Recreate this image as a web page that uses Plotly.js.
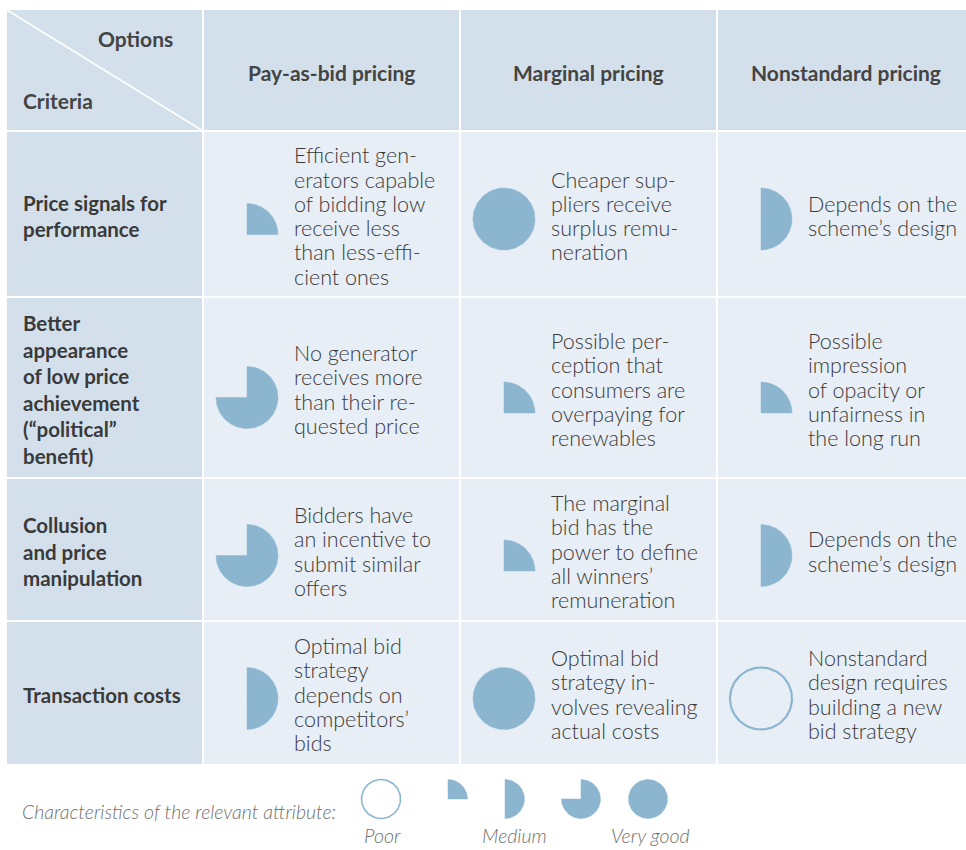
<!DOCTYPE html>
<html>
<head>
<meta charset="utf-8">
<script src="https://cdn.plot.ly/plotly-3.0.1.min.js"></script>
<style>
  html, body { margin: 0; padding: 0; background: #ffffff; }
  #chart { width: 966px; height: 850px; }
</style>
</head>
<body>
<div id="chart"></div>
<script>
// ---------------- DATA ----------------
const options = ["Pay-as-bid pricing", "Marginal pricing", "Nonstandard pricing"];
const criteria = [
  ["Price signals for", "performance"],
  ["Better", "appearance", "of low price", "achievement", "(“political”", "benefit)"],
  ["Collusion", "and price", "manipulation"],
  ["Transaction costs"]
];
// Harvey-ball scores, in quarters (0 = poor ... 4 = very good)
const scoresPayAsBid   = [1, 3, 3, 2];
const scoresMarginal   = [4, 1, 1, 4];
const scoresNonstandard = [2, 1, 2, 0];
const descPayAsBid = [
  ["Efficient gen-", "erators capable", "of bidding low", "receive less", "than less-effi-", "cient ones"],
  ["No generator", "receives more", "than their re-", "quested price"],
  ["Bidders have", "an incentive to", "submit similar", "offers"],
  ["Optimal bid", "strategy", "depends on", "competitors’", "bids"]
];
const descMarginal = [
  ["Cheaper sup-", "pliers receive", "surplus remu-", "neration"],
  ["Possible per-", "ception that", "consumers are", "overpaying for", "renewables"],
  ["The marginal", "bid has the", "power to define", "all winners’", "remuneration"],
  ["Optimal bid", "strategy in-", "volves revealing", "actual costs"]
];
const descNonstandard = [
  ["Depends on the", "scheme’s design"],
  ["Possible", "impression", "of opacity or", "unfairness in", "the long run"],
  ["Depends on the", "scheme’s design"],
  ["Nonstandard", "design requires", "building a new", "bid strategy"]
];
const cornerTop = "Options";
const cornerBottom = "Criteria";
const legendTitle = "Characteristics of the relevant attribute:";
const legendScores = [0, 1, 2, 3, 4];
const legendLabels = ["Poor", "", "Medium", "", "Very good"];

// ---------------- LAYOUT PARAMETERS ----------------
const colEdges = [7, 203, 460, 717, 966];
const rowEdges = [10, 131, 297, 478, 621, 764];
const ballYOffset = [5, 10, 6, 6];
const legendX = [381, 448, 505, 581, 648];
const legendY = 799;
const headFill = "#d3e0eb";
const bodyFill = "#e8eef5";
const ballColor = "#8cb6d0";
const bodyFont = "Lato, 'Open Sans', sans-serif";

const scores = [scoresPayAsBid, scoresMarginal, scoresNonstandard];
const descs = [descPayAsBid, descMarginal, descNonstandard];

const shapes = [];
const annotations = [];
const traces = [];

// cells
for (let r = 0; r < rowEdges.length - 1; r++) {
  for (let c = 0; c < colEdges.length - 1; c++) {
    const head = (r === 0 || c === 0);
    shapes.push({
      type: "rect", xref: "x", yref: "y", layer: "below",
      x0: colEdges[c] + (c > 0 ? 1 : 0), x1: colEdges[c + 1] - (c < colEdges.length - 2 ? 1 : 0),
      y0: rowEdges[r] + (r > 0 ? 1 : 0), y1: rowEdges[r + 1] - (r < rowEdges.length - 2 ? 1 : 0),
      fillcolor: head ? headFill : bodyFill, line: { width: 0 }
    });
  }
}
// diagonal in corner cell
shapes.push({
  type: "line", xref: "x", yref: "y",
  x0: colEdges[0], y0: rowEdges[0], x1: colEdges[1], y1: rowEdges[1],
  line: { color: "#ffffff", width: 1.5 }
});

function addLines(lines, x, yc, gap, font, xanchor) {
  const n = lines.length;
  const adj = xanchor === "left" ? -2 : (xanchor === "right" ? 2 : 0);
  lines.forEach((t, i) => {
    annotations.push({
      xref: "x", yref: "y", x: x + adj, y: yc + (i - (n - 1) / 2) * gap,
      text: t, showarrow: false, xanchor: xanchor || "left", yanchor: "middle",
      font: font
    });
  });
}

const headFont = { family: bodyFont, size: 21, color: "#444444", weight: 700 };
const critFont = { family: bodyFont, size: 20.5, color: "#3a3a3a", weight: 700 };
const descFont = { family: bodyFont, size: 21.5, color: "#3a3a3a", weight: 300 };
const legFont = { family: bodyFont, size: 19.5, color: "#707070", weight: 300, style: "italic" };

// headers
options.forEach((o, c) => {
  const xc = c === 2 ? (colEdges[c + 1] + colEdges[c + 2]) / 2 + 4 : (colEdges[c + 1] + colEdges[c + 2]) / 2;
  addLines([o], xc, (rowEdges[0] + rowEdges[1]) / 2 + 2, 0, headFont, "center");
});
addLines([cornerTop], 173, 38, 0, headFont, "right");
addLines([cornerBottom], 23, 100, 0, headFont, "left");

// harvey ball builder
function harvey(score, cx, cy, r, shiftQuarter) {
  const pts = { x: [], y: [] };
  const N = 90;
  if (score === 0 || score === 4) {
    for (let i = 0; i <= N; i++) {
      const t = (i / N) * 2 * Math.PI;
      pts.x.push(cx + r * Math.sin(t));
      pts.y.push(cy - r * Math.cos(t));
    }
  } else {
    const yOff = (score === 1 && shiftQuarter) ? r / 2 : 0;
    const sweep = (score / 4) * 2 * Math.PI;
    pts.x.push(cx); pts.y.push(cy + yOff);
    for (let i = 0; i <= N; i++) {
      const t = (i / N) * sweep;
      pts.x.push(cx + r * Math.sin(t));
      pts.y.push(cy + yOff - r * Math.cos(t));
    }
    pts.x.push(cx); pts.y.push(cy + yOff);
  }
  const tr = {
    type: "scatter", mode: "lines", x: pts.x, y: pts.y,
    hoverinfo: "skip", showlegend: false
  };
  if (score === 0) {
    tr.line = { color: ballColor, width: r > 25 ? 2.2 : 1.6 };
  } else {
    tr.fill = "toself"; tr.fillcolor = ballColor;
    tr.line = { color: ballColor, width: 0.5 };
  }
  return tr;
}

// body rows
for (let r = 0; r < criteria.length; r++) {
  const rc = (rowEdges[r + 1] + rowEdges[r + 2]) / 2;
  addLines(criteria[r], 23, rc + 2, 26.6, critFont, "left");
  for (let c = 0; c < 3; c++) {
    const x0 = colEdges[c + 1];
    traces.push(harvey(scores[c][r], x0 + 44, rc + ballYOffset[r], 31, true));
    addLines(descs[c][r], x0 + 91, rc + 2, 24.3, descFont, "left");
  }
}

// legend
addLines([legendTitle], 22, 811, 0, legFont, "left");
legendScores.forEach((s, i) => {
  traces.push(harvey(s, legendX[i], legendY, 19.5, false));
});
const labelX = [382, null, 514, null, 650];
legendLabels.forEach((l, i) => {
  if (!l) return;
  addLines([l], labelX[i], 835, 0, legFont, "center");
});

const layout = {
  width: 966, height: 850,
  margin: { l: 0, r: 0, t: 0, b: 0, pad: 0 },
  paper_bgcolor: "#ffffff", plot_bgcolor: "#ffffff",
  xaxis: { range: [0, 966], visible: false, fixedrange: true },
  yaxis: { range: [850, 0], visible: false, fixedrange: true },
  shapes: shapes, annotations: annotations, showlegend: false
};
Plotly.newPlot("chart", traces, layout, { staticPlot: true, displayModeBar: false });
</script>
</body>
</html>
